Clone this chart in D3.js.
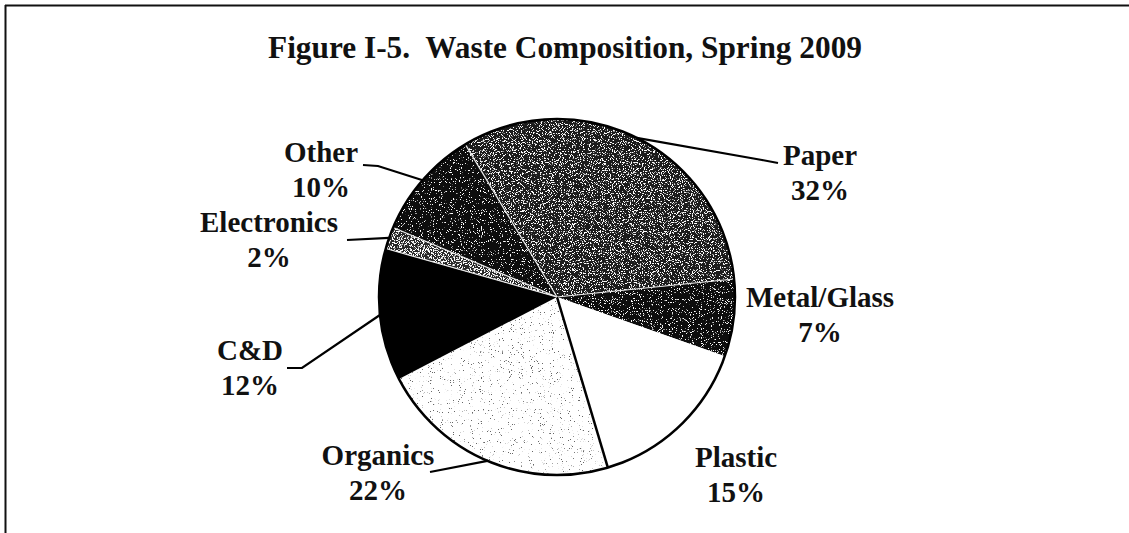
<!DOCTYPE html>
<html lang="en">
<head>
<meta charset="UTF-8">
<title>Waste Composition, Spring 2009</title>
<script src="https://cdn.jsdelivr.net/npm/d3@7"></script>
<style>
  html, body { margin: 0; padding: 0; background: #fff; }
  svg { display: block; }
  .lbl { font-family: "Liberation Serif", "Times New Roman", serif; font-weight: bold; fill: #111; white-space: pre; }
</style>
</head>
<body>
<svg id="chart" width="1129" height="533"></svg>
<script>
// data
var categories = ["Paper", "Metal/Glass", "Plastic", "Organics", "C&D", "Electronics", "Other"];
var shares = [32, 7, 15, 22, 12, 2, 10];
var titleText = "Figure I-5.  Waste Composition, Spring 2009";

// look of each slice: base colour, speckle colour, speckle threshold
var fills = {
  "Paper":       { base: "#1a1a1a", dot: "#ffffff", cut: 0.57 },
  "Metal/Glass": { base: "#0e0e0e", dot: "#ffffff", cut: 0.63 },
  "Plastic":     { base: "#ffffff", dot: null,      cut: 0 },
  "Organics":    { base: "#ffffff", dot: "#222222", cut: 0.68 },
  "C&D":         { base: "#000000", dot: null,      cut: 0 },
  "Electronics": { base: "#2a2a2a", dot: "#ffffff", cut: 0.52 },
  "Other":       { base: "#0a0a0a", dot: "#ffffff", cut: 0.64 }
};

// label placement (centre x, baseline of first line) and leader elbows
var labelPos = {
  "Paper":       { x: 820, y: 165, leader: [[762, 160], [778, 163]] },
  "Metal/Glass": { x: 820, y: 307, leader: null },
  "Plastic":     { x: 736, y: 467, leader: null },
  "Organics":    { x: 378, y: 465, leader: [[430, 472]] },
  "C&D":         { x: 250, y: 360, leader: [[302, 368], [287, 368]] },
  "Electronics": { x: 269, y: 232, leader: [[347, 240]] },
  "Other":       { x: 321, y: 162, leader: [[378, 166], [363, 165]] }
};

var width = 1129, height = 533;
var cx = 557, cy = 297, radius = 178;
var startDeg = -31;
var lineGap = 35;

var svg = d3.select("#chart");
var defs = svg.append("defs");

// speckle filters (scanned halftone look)
categories.forEach(function(c, i) {
  var f = fills[c];
  if (!f.dot) return;
  var rgb = d3.rgb(f.dot);
  var flt = defs.append("filter").attr("id", "speck" + i)
    .attr("x", "0").attr("y", "0").attr("width", "100%").attr("height", "100%");
  flt.append("feTurbulence").attr("type", "fractalNoise")
    .attr("baseFrequency", 0.9).attr("numOctaves", 2).attr("seed", 7 + i).attr("result", "noise");
  flt.append("feColorMatrix").attr("in", "noise").attr("type", "matrix")
    .attr("values", "0 0 0 0 " + rgb.r / 255 + "  0 0 0 0 " + rgb.g / 255 + "  0 0 0 0 " + rgb.b / 255 +
      "  14 0 0 0 " + (-14 * f.cut))
    .attr("result", "dots");
  flt.append("feComposite").attr("in", "dots").attr("in2", "SourceGraphic").attr("operator", "in").attr("result", "clipped");
  var m = flt.append("feMerge");
  m.append("feMergeNode").attr("in", "SourceGraphic");
  m.append("feMergeNode").attr("in", "clipped");
});

// frame (top and left rule of the scanned page)
svg.append("line").attr("x1", 5).attr("y1", 5.5).attr("x2", width).attr("y2", 5.5)
  .attr("stroke", "#111").attr("stroke-width", 2);
svg.append("line").attr("x1", 5.5).attr("y1", 5).attr("x2", 5.5).attr("y2", height)
  .attr("stroke", "#111").attr("stroke-width", 2);

// title
svg.append("text").attr("class", "lbl")
  .attr("x", 565).attr("y", 58)
  .attr("text-anchor", "middle")
  .style("font-size", "32px")
  .attr("textLength", 594)
  .attr("lengthAdjust", "spacingAndGlyphs")
  .text(titleText);

var pie = d3.pie()
  .sort(null)
  .startAngle(startDeg * Math.PI / 180)
  .endAngle((startDeg + 360) * Math.PI / 180);

var arcs = pie(shares);
var arc = d3.arc().innerRadius(0).outerRadius(radius);

var g = svg.append("g").attr("transform", "translate(" + cx + "," + cy + ")");

g.selectAll("path.slice")
  .data(arcs)
  .enter()
  .append("path")
  .attr("class", "slice")
  .attr("d", arc)
  .attr("fill", function(d, i) { return fills[categories[i]].base; })
  .attr("filter", function(d, i) { return fills[categories[i]].dot ? "url(#speck" + i + ")" : null; });

// slice boundaries: white hairlines between dark slices, black between light ones
function isLight(i) { return d3.hsl(fills[categories[i]].base).l > 0.7; }
g.selectAll("line.edge")
  .data(arcs)
  .enter()
  .append("line")
  .attr("class", "edge")
  .attr("x1", 0).attr("y1", 0)
  .attr("x2", function(d) { return d3.pointRadial(d.startAngle, radius)[0]; })
  .attr("y2", function(d) { return d3.pointRadial(d.startAngle, radius)[1]; })
  .attr("stroke", function(d, i) {
    var prev = (i + categories.length - 1) % categories.length;
    if (isLight(i) && isLight(prev)) return "#000";
    if (isLight(i) || isLight(prev)) return "none";
    return "#e8e8e8";
  })
  .attr("stroke-width", function(d, i) {
    var prev = (i + categories.length - 1) % categories.length;
    return (isLight(i) && isLight(prev)) ? 2.5 : 1.2;
  });

g.append("circle").attr("r", radius).attr("fill", "none").attr("stroke", "#000").attr("stroke-width", 2.5);

// leaders, from the slice's mid angle on the rim
arcs.forEach(function(d, i) {
  var lp = labelPos[categories[i]];
  if (!lp.leader) return;
  var mid = (d.startAngle + d.endAngle) / 2;
  var p0 = d3.pointRadial(mid, radius);
  var pts = [[p0[0] + cx, p0[1] + cy]].concat(lp.leader);
  svg.append("path")
    .attr("d", d3.line()(pts))
    .attr("fill", "none")
    .attr("stroke", "#000")
    .attr("stroke-width", 2.2);
});

// labels
categories.forEach(function(c, i) {
  var lp = labelPos[c];
  var t = svg.append("text").attr("class", "lbl")
    .attr("text-anchor", "middle")
    .style("font-size", "29px");
  t.append("tspan").attr("x", lp.x).attr("y", lp.y).text(c);
  t.append("tspan").attr("x", lp.x).attr("y", lp.y + lineGap).text(shares[i] + "%");
});
</script>
</body>
</html>
